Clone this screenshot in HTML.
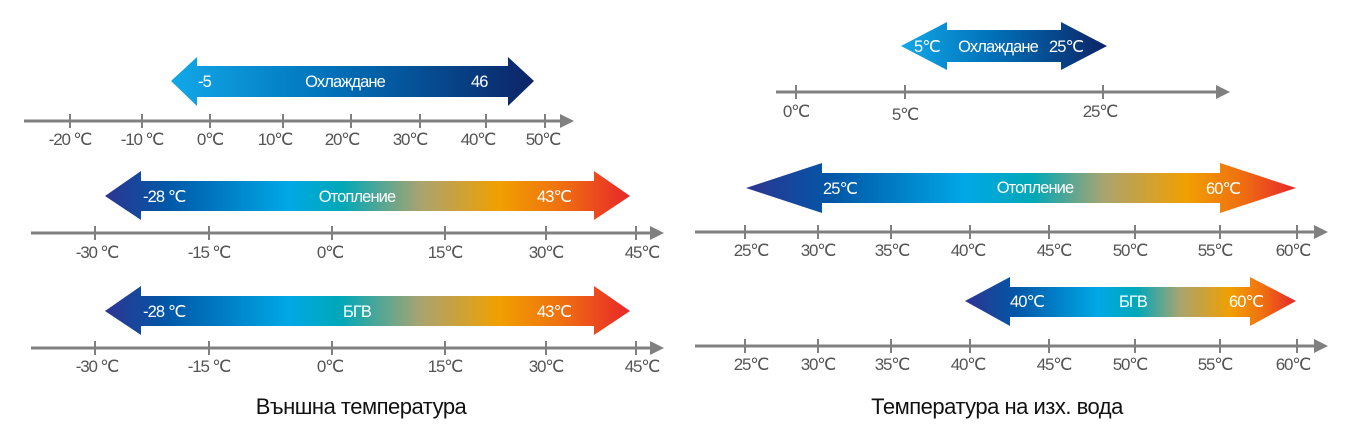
<!DOCTYPE html>
<html><head><meta charset="utf-8"><style>
html,body{margin:0;padding:0;background:#fff}
svg{display:block}
text{font-family:"Liberation Sans",sans-serif}
.l{font-size:17px;fill:#555;text-anchor:middle;letter-spacing:-1.2px}
.w{font-size:16.5px;fill:#fff;letter-spacing:-0.9px}
.t{font-size:22px;fill:#111;text-anchor:middle;letter-spacing:-0.5px}
</style></head><body>
<svg width="1362" height="446" viewBox="0 0 1362 446">
<defs>
<linearGradient id="cool" x1="0" x2="1" y1="0" y2="0">
<stop offset="0" stop-color="#12a8e8"/><stop offset="0.45" stop-color="#0070b8"/><stop offset="1" stop-color="#0c2466"/>
</linearGradient>
<linearGradient id="heat" x1="0" x2="1" y1="0" y2="0">
<stop offset="0" stop-color="#2e3590"/><stop offset="0.12" stop-color="#0058a8"/><stop offset="0.35" stop-color="#00a8e6"/><stop offset="0.45" stop-color="#00a8b8"/><stop offset="0.6" stop-color="#a8a470"/><stop offset="0.75" stop-color="#f0a000"/><stop offset="0.87" stop-color="#ef7010"/><stop offset="1" stop-color="#e8262a"/>
</linearGradient>
<linearGradient id="heat2" x1="0" x2="1" y1="0" y2="0">
<stop offset="0" stop-color="#2e3590"/><stop offset="0.16" stop-color="#0058a8"/><stop offset="0.4" stop-color="#00a8e6"/><stop offset="0.52" stop-color="#00a8b8"/><stop offset="0.65" stop-color="#a8a470"/><stop offset="0.8" stop-color="#f0a000"/><stop offset="0.9" stop-color="#ef7010"/><stop offset="1" stop-color="#e8262a"/>
</linearGradient>
</defs>
<g stroke="#808080" stroke-width="3" fill="none">
<line x1="24" y1="121" x2="562" y2="121"/>
<line x1="31" y1="233" x2="652" y2="233"/>
<line x1="31" y1="348" x2="652" y2="348"/>
<line x1="776" y1="92" x2="1220" y2="92"/>
<line x1="695" y1="232" x2="1316" y2="232"/>
<line x1="695" y1="346" x2="1316" y2="346"/>
</g>
<g fill="#808080">
<polygon points="560,114 574,121 560,128"/>
<polygon points="650,226 664,233 650,240"/>
<polygon points="650,341 664,348 650,355"/>
<polygon points="1216,85 1230,92 1216,99"/>
<polygon points="1314,225 1328,232 1314,239"/>
<polygon points="1314,339 1328,346 1314,353"/>
</g>
<g stroke="#808080" stroke-width="2">
<path d="M70 114v14M142 114v14M210 114v14M283 114v14M351 114v14M420 114v14M486 114v14M545 114v14"/>
<path d="M95 226v14M209 226v14M332 226v14M445 226v14M546 226v14M636 226v14"/>
<path d="M95 341v14M209 341v14M332 341v14M445 341v14M546 341v14M636 341v14"/>
<path d="M796 85v14M905 85v14M1103 85v14"/>
<path d="M745 225v14M818 225v14M891 225v14M970 225v14M1049 225v14M1135 225v14M1220 225v14M1297 225v14"/>
<path d="M745 339v14M818 339v14M891 339v14M970 339v14M1049 339v14M1135 339v14M1220 339v14M1297 339v14"/>
</g>
<polygon fill="url(#cool)" points="171,81 197,57 197,66 508,66 508,57 534,81 508,106 508,97 197,97 197,106"/>
<polygon fill="url(#heat)" points="105,196 141,171 141,181 594,181 594,171 630,196 594,220 594,211 141,211 141,220"/>
<polygon fill="url(#heat)" points="105,311 141,286 141,296 594,296 594,286 630,311 594,335 594,326 141,326 141,335"/>
<polygon fill="url(#cool)" points="901,46 947,22 947,30 1061,30 1061,22 1107,46 1061,70 1061,62 947,62 947,70"/>
<polygon fill="url(#heat2)" points="746,188 822,163 822,173 1220,173 1220,163 1296,188 1220,213 1220,203 822,203 822,213"/>
<polygon fill="url(#heat2)" points="965,301 1010,277 1010,287 1250,287 1250,277 1296,301 1250,326 1250,317 1010,317 1010,326"/>
<text class="w" x="198" y="87">-5</text>
<text class="w" x="345" y="87" text-anchor="middle">Охлаждане</text>
<text class="w" x="471" y="87">46</text>
<text class="w" x="143" y="202">-28 ℃</text>
<text class="w" x="357" y="202" text-anchor="middle">Отопление</text>
<text class="w" x="537" y="202">43℃</text>
<text class="w" x="143" y="317">-28 ℃</text>
<text class="w" x="357" y="317" text-anchor="middle">БГВ</text>
<text class="w" x="537" y="317">43℃</text>
<text class="w" x="914" y="52">5℃</text>
<text class="w" x="998" y="52" text-anchor="middle">Охлаждане</text>
<text class="w" x="1049" y="52">25℃</text>
<text class="w" x="823" y="194">25℃</text>
<text class="w" x="1035" y="193" text-anchor="middle">Отопление</text>
<text class="w" x="1206" y="194">60℃</text>
<text class="w" x="1010" y="307">40℃</text>
<text class="w" x="1133" y="307" text-anchor="middle">БГВ</text>
<text class="w" x="1229" y="307">60℃</text>
<g class="l">
<text x="70" y="145">-20 ℃</text><text x="142" y="145">-10 ℃</text><text x="210" y="145">0℃</text><text x="275" y="145">10℃</text><text x="342" y="145">20℃</text><text x="410" y="145">30℃</text><text x="478" y="145">40℃</text><text x="543" y="145">50℃</text>
<text x="97" y="258">-30 ℃</text><text x="209" y="258">-15 ℃</text><text x="330" y="258">0℃</text><text x="445" y="258">15℃</text><text x="546" y="258">30℃</text><text x="642" y="258">45℃</text>
<text x="97" y="372">-30 ℃</text><text x="209" y="372">-15 ℃</text><text x="330" y="372">0℃</text><text x="445" y="372">15℃</text><text x="546" y="372">30℃</text><text x="642" y="372">45℃</text>
<text x="796" y="117">0℃</text><text x="905" y="120">5℃</text><text x="1100" y="117">25℃</text>
<text x="751" y="256">25℃</text><text x="818" y="256">30℃</text><text x="892" y="256">35℃</text><text x="968" y="256">40℃</text><text x="1054" y="256">45℃</text><text x="1130" y="256">50℃</text><text x="1215" y="256">55℃</text><text x="1293" y="256">60℃</text>
<text x="751" y="370">25℃</text><text x="818" y="370">30℃</text><text x="892" y="370">35℃</text><text x="968" y="370">40℃</text><text x="1054" y="370">45℃</text><text x="1130" y="370">50℃</text><text x="1215" y="370">55℃</text><text x="1293" y="370">60℃</text>
</g>
<text class="t" x="361" y="414">Външна температура</text>
<text class="t" x="997" y="414">Температура на изх. вода</text>
</svg>
</body></html>
